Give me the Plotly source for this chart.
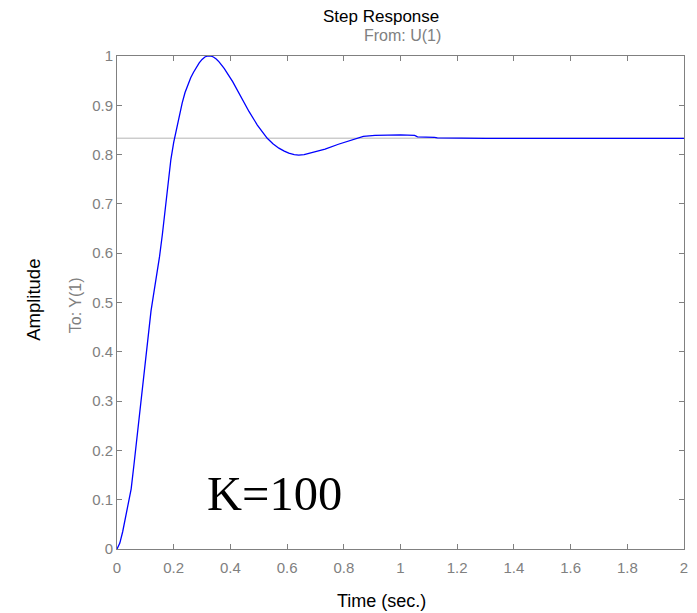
import plotly.graph_objects as go

# Step response
time_s = [0, 0.01, 0.02, 0.03, 0.04, 0.05, 0.06, 0.07, 0.08, 0.09, 0.10, 0.11, 0.12,
          0.13, 0.14, 0.15, 0.16, 0.17, 0.18, 0.19, 0.20, 0.21, 0.22, 0.23, 0.24, 0.25,
          0.26, 0.27, 0.28, 0.29, 0.30, 0.31, 0.32, 0.33, 0.34, 0.35, 0.36, 0.378, 0.408,
          0.437, 0.466, 0.495, 0.53, 0.55, 0.571, 0.59, 0.606, 0.625, 0.641, 0.66, 0.688,
          0.734, 0.781, 0.828, 0.869, 0.91, 0.95, 1.0, 1.05, 1.06, 1.12, 1.13, 1.3, 2.0]
amplitude = [0, 0.012, 0.035, 0.062, 0.088, 0.122, 0.172, 0.224, 0.278, 0.333, 0.39, 0.44,
             0.483, 0.52, 0.555, 0.593, 0.638, 0.69, 0.743, 0.79, 0.825, 0.854, 0.882,
             0.905, 0.926, 0.943, 0.956, 0.967, 0.977, 0.986, 0.993, 0.998, 1.0, 1.0, 0.998,
             0.994, 0.988, 0.975, 0.948, 0.917, 0.887, 0.86, 0.833, 0.822, 0.813, 0.807,
             0.803, 0.800, 0.799, 0.800, 0.804, 0.811, 0.821, 0.829, 0.837, 0.839, 0.84,
             0.84, 0.839, 0.836, 0.835, 0.834, 0.833, 0.833]
steady_t = [0, 2]
steady_v = [0.8333, 0.8333]

x_ticks = [0, 0.2, 0.4, 0.6, 0.8, 1, 1.2, 1.4, 1.6, 1.8, 2]
x_labels = ["0", "0.2", "0.4", "0.6", "0.8", "1", "1.2", "1.4", "1.6", "1.8", "2"]
y_ticks = [0, 0.1, 0.2, 0.3, 0.4, 0.5, 0.6, 0.7, 0.8, 0.9, 1]
y_labels = ["0", "0.1", "0.2", "0.3", "0.4", "0.5", "0.6", "0.7", "0.8", "0.9", "1"]

GRAY = "#808080"
FONT = "Liberation Sans, Arial, sans-serif"

fig = go.Figure()
fig.add_trace(go.Scatter(x=steady_t, y=steady_v, mode="lines",
                         line=dict(color="#b4b4b4", width=1), hoverinfo="skip"))
fig.add_trace(go.Scatter(x=time_s, y=amplitude, mode="lines",
                         line=dict(color="#0000ff", width=1.3)))

axis_common = dict(showgrid=False, zeroline=False, showline=True, linecolor=GRAY,
                   linewidth=1, mirror="ticks", ticks="inside", ticklen=5,
                   tickcolor=GRAY, tickwidth=1,
                   tickfont=dict(family=FONT, size=15, color=GRAY))

# page body has an 8px default margin, so the figure is sized to fit the window
fig.update_layout(
    width=689, height=605,
    margin=dict(l=109, r=9, t=48, b=64),
    paper_bgcolor="white", plot_bgcolor="white",
    showlegend=False,
    xaxis=dict(range=[0, 2], tickvals=x_ticks, ticktext=x_labels,
               ticklabelstandoff=5, **axis_common),
    yaxis=dict(range=[0, 1], tickvals=y_ticks, ticktext=y_labels, **axis_common),
    annotations=[
        dict(text="Step Response", xref="paper", yref="paper", x=0.466, y=1.081,
             showarrow=False, font=dict(family=FONT, size=17, color="black"),
             xanchor="center", yanchor="middle"),
        dict(text="From: U(1)", xref="paper", yref="paper", x=0.503, y=1.0406,
             showarrow=False, font=dict(family=FONT, size=16, color=GRAY),
             xanchor="center", yanchor="middle"),
        dict(text="Time (sec.)", xref="paper", yref="paper", x=0.466, y=-0.1055,
             showarrow=False, font=dict(family=FONT, size=18, color="black"),
             xanchor="center", yanchor="middle"),
        dict(text="Amplitude", xref="paper", yref="paper", x=-0.1485, y=0.505,
             showarrow=False, textangle=-90, font=dict(family=FONT, size=18.5, color="black"),
             xanchor="center", yanchor="middle"),
        dict(text="To: Y(1)", xref="paper", yref="paper", x=-0.0718, y=0.495,
             showarrow=False, textangle=-90, font=dict(family=FONT, size=16, color=GRAY),
             xanchor="center", yanchor="middle"),
        dict(text="K=100", xref="paper", yref="paper", x=0.2776, y=0.1116,
             showarrow=False,
             font=dict(family="Liberation Serif, Times New Roman, serif", size=48.5, color="black"),
             xanchor="center", yanchor="middle"),
    ],
)

fig.write_html("out.html")
